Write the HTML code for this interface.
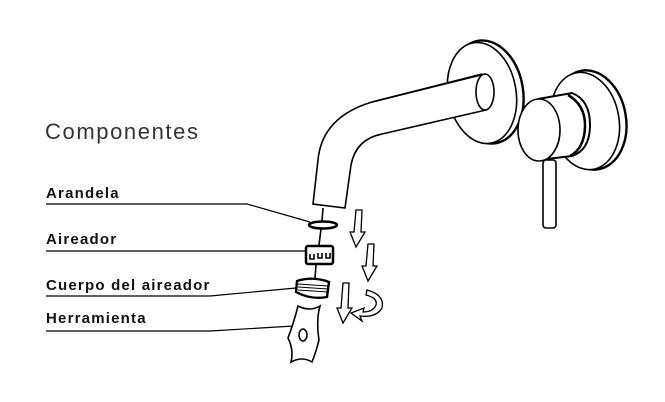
<!DOCTYPE html>
<html><head><style>
body{margin:0;width:665px;height:402px;background:#fff;overflow:hidden;position:relative;font-family:"Liberation Sans",sans-serif}
.t{position:absolute;left:46px;color:#111;font-weight:bold;font-size:15px;line-height:1;letter-spacing:1.2px}
</style></head><body>
<div style="position:absolute;left:45px;top:121px;font-size:22px;color:#333;line-height:1;letter-spacing:1.6px">Componentes</div>
<div class="t" style="top:186px">Arandela</div>
<div class="t" style="top:232px">Aireador</div>
<div class="t" style="top:278px">Cuerpo del aireador</div>
<div class="t" style="top:311px">Herramienta</div>
<svg width="665" height="402" style="position:absolute;left:0;top:0" fill="none" stroke="#000" stroke-width="1.6">
<g stroke-width="1.2">
<polyline points="46,204 247,204 310,222"/>
<polyline points="46,251 305,251"/>
<polyline points="46,296 210,296 296,288"/>
<polyline points="46,331 210,331 294,326"/>
</g>
<ellipse cx="487" cy="92" rx="36" ry="52" transform="rotate(-10 487 92)" stroke-width="2.4"/>
<ellipse cx="482" cy="93" rx="34" ry="51" transform="rotate(-10 482 93)" fill="#fff"/>
<path d="M482,74 L372,102 Q322,117 318,160 L313,204 L345,208 L351,165 Q356,139 382,134 L486,110" fill="#fff"/>
<ellipse cx="485" cy="92" rx="9" ry="18" fill="#fff"/>
<path d="M485,74 L372,102"/>
<ellipse cx="590" cy="120" rx="36" ry="50" transform="rotate(-10 590 120)" stroke-width="2.4"/>
<ellipse cx="585" cy="121" rx="34" ry="49" transform="rotate(-10 585 121)" fill="#fff"/>
<path d="M538,99 L572,93 Q590,100 590,125 Q590,150 572,156 L538,160" fill="#fff" stroke-width="2"/>
<path d="M568,95 Q585,105 585,125 Q585,148 570,156" stroke-width="2.5"/>
<ellipse cx="539" cy="130" rx="21" ry="31" fill="#fff"/>
<rect x="543" y="160" width="13" height="68" rx="3" fill="#fff"/>
<line x1="323" y1="208" x2="322" y2="222"/>
<ellipse cx="323" cy="225" rx="14" ry="3.5" stroke-width="2.5"/>
<line x1="321" y1="229" x2="319" y2="245"/>
<rect x="306" y="246" width="27" height="18" rx="2" fill="#fff" stroke-width="2.5"/>
<path d="M310,254 v5 h4 v-5 M318,253 v5 h4 v-5 M326,253 v5 h4 v-5" stroke-width="1.6"/>
<line x1="316" y1="264" x2="315" y2="279"/>
<path d="M297,281 Q313,276 329,282 L327,297 Q311,300 296,292 Z" fill="#fff" stroke-width="2.4"/>
<path d="M298,284 L328,286 M298,287 L328,289 M298,290 L328,292" stroke-width="1"/>
<path d="M298,306 Q310,312 320,306 Q316,320 319,340 Q316,352 312,362 Q302,356 291,362 Q294,350 288,338 Q294,322 298,306Z" fill="#fff"/>
<ellipse cx="303" cy="335" rx="4" ry="6"/>
<g stroke-width="1.3" fill="#fff">
<path d="M356,210 h6 l-1,22 h4 l-9,15 l-6,-15 h4 z"/>
<path d="M368,244 h6 l-1,22 h4 l-9,15 l-6,-15 h4 z"/>
<path d="M343,283 h6 l-1,25 h4 l-9,15 l-6,-15 h4 z"/>
<path d="M367,290 Q385,295 382,308 Q376,318 360,316 l2,5 l-11,-8 l13,-5 l-1,4 Q373,312 376,305 Q378,298 366,295 z"/>
</g>
</svg>
</body></html>
